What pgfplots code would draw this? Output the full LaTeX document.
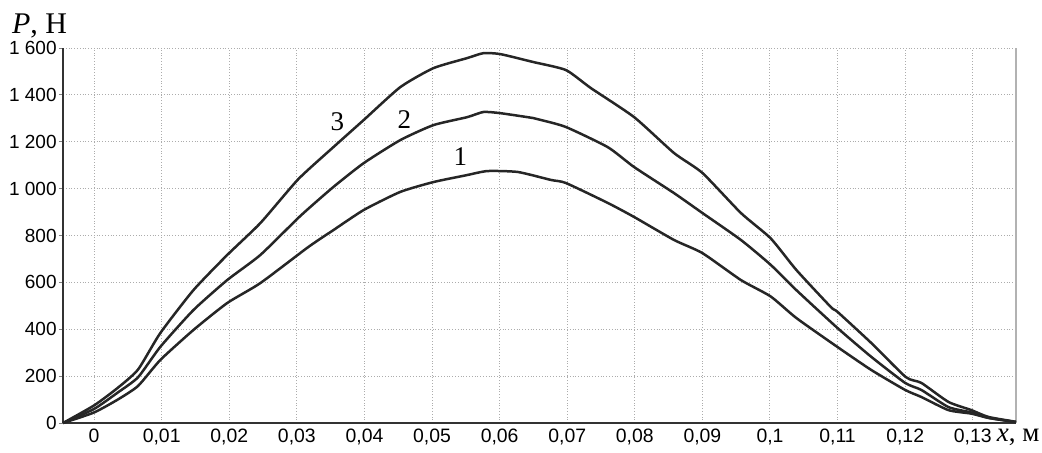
\documentclass[border=0pt]{standalone}
\usepackage{fontspec}
\setmainfont{Liberation Sans}
\newfontfamily\serif{Liberation Serif}
\usepackage{pgfplots}
\pgfplotsset{compat=1.18}
\tikzset{curve/.style={no markers, line width=1.25pt, black!85, line join=round, smooth, tension=0.35}}
\begin{document}
\begin{tikzpicture}
\path[use as bounding box] (-31.5pt,-14.5pt) rectangle (489.5pt,211.5pt);
\begin{axis}[
  scale only axis,
  width=476.5pt, height=187.5pt,
  xmin=-0.0046, xmax=0.1364,
  ymin=0, ymax=1600,
  axis x line*=bottom, axis y line*=left,
  axis line style={line width=0.8pt, black!80},
  xtick={0,0.01,0.02,0.03,0.04,0.05,0.06,0.07,0.08,0.09,0.1,0.11,0.12,0.13},
  ytick={0,200,400,600,800,1000,1200,1400,1600},
  grid=major,
  grid style={densely dotted, gray!65, line width=0.5pt},
  xtick style={draw=none},
  ytick style={line width=0.4pt, gray},
  tick align=outside,
  major tick length=2pt,
  /pgf/number format/assume math mode=true,
  x tick label style={/pgf/number format/.cd, fixed, precision=2, use comma, /tikz/.cd, font=\fontsize{9.7}{11}\selectfont, yshift=0.5pt, inner sep=1.5pt},
  y tick label style={/pgf/number format/.cd, fixed, 1000 sep={\ }, /tikz/.cd, font=\fontsize{9.5}{11}\selectfont, inner sep=1pt},
  extra x ticks={0.1364},
  extra x tick labels={},
  extra x tick style={grid style={solid, gray!60, line width=0.6pt}},
  clip=false,
]
\addplot[curve] coordinates {
(-0.0046,0) (0,45) (0.0035,100) (0.0065,158) (0.0098,269) (0.0147,397) (0.0197,512)
(0.0246,597) (0.0317,751) (0.0354,823) (0.0399,909) (0.0453,986) (0.0502,1028)
(0.0552,1058) (0.0582,1075) (0.0627,1071) (0.0676,1037) (0.0698,1024) (0.076,939)
(0.0799,879) (0.0858,781) (0.09,725) (0.0957,610) (0.1001,540) (0.1039,448)
(0.11,324) (0.115,226) (0.12,141) (0.1224,111) (0.1264,55) (0.1298,40) (0.1323,22) (0.1364,4)
};
\addplot[curve] coordinates {
(-0.0046,0) (0,60) (0.0035,130) (0.0065,195) (0.0098,325) (0.0147,482) (0.0197,610)
(0.0246,717) (0.0305,883) (0.0354,1007) (0.0399,1109) (0.0453,1207) (0.0502,1271)
(0.0552,1305) (0.0576,1327) (0.0601,1322) (0.065,1301) (0.0661,1293) (0.0698,1263)
(0.076,1177) (0.0799,1092) (0.0858,981) (0.09,896) (0.0957,781) (0.1001,675)
(0.1039,567) (0.11,405) (0.115,282) (0.12,171) (0.1224,141) (0.1264,68) (0.1298,45)
(0.1323,22) (0.1364,4)
};
\addplot[curve] coordinates {
(-0.0046,0) (0,75) (0.0035,150) (0.0065,228) (0.0098,384) (0.0147,567) (0.0197,717)
(0.0246,853) (0.0302,1040) (0.0354,1177) (0.0399,1293) (0.0453,1433) (0.0502,1514)
(0.0552,1557) (0.0576,1578) (0.0601,1574) (0.065,1540) (0.0698,1506) (0.0735,1429)
(0.0799,1305) (0.0858,1152) (0.09,1067) (0.0957,896) (0.1001,788) (0.1039,653)
(0.109,495) (0.11,474) (0.115,341) (0.1201,196) (0.1224,171) (0.1264,90) (0.1298,55)
(0.1323,26) (0.1364,5)
};
\node[font=\serif\fontsize{13.5}{15}\selectfont] at (axis cs:0.036,1284) {3};
\node[font=\serif\fontsize{13.5}{15}\selectfont] at (axis cs:0.0459,1293) {2};
\node[font=\serif\fontsize{13.5}{15}\selectfont] at (axis cs:0.0542,1135) {1};
\node[font=\serif\fontsize{15}{17}\selectfont, anchor=west, inner sep=0pt] at (axis cs:-0.0122,1696) {\textit{P}, Н};
\node[font=\serif\fontsize{13.5}{16}\selectfont, anchor=west, inner sep=0pt] at (axis cs:0.1335,-62) {\textit{x}, м};
\end{axis}
\end{tikzpicture}
\end{document}
